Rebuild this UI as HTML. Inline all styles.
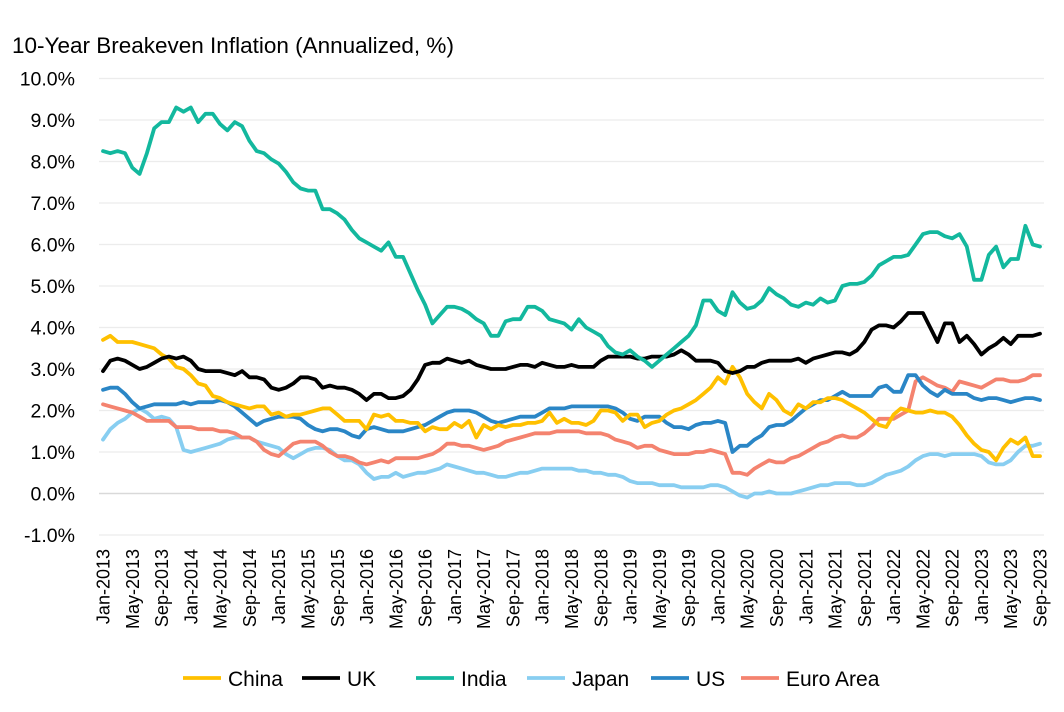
<!DOCTYPE html>
<html><head><meta charset="utf-8">
<style>
html,body{margin:0;padding:0;background:#fff;}
svg{display:block;font-family:"Liberation Sans",sans-serif;}
</style></head>
<body>
<svg id="chart" width="1064" height="712" viewBox="0 0 1064 712" xmlns="http://www.w3.org/2000/svg">
<text x="12" y="53" font-size="22.5" fill="#000">10-Year Breakeven Inflation (Annualized, %)</text>
<g id="grid"></g><g id="yticks"></g><g id="xticks"></g><g id="series"></g><g id="legend"></g>
</svg>
<script>
const yTicks=[-1,0,1,2,3,4,5,6,7,8,9,10];
const seriesNames=["China","UK","India","Japan","US","Euro Area"];
const china=[3.7,3.8,3.65,3.65,3.65,3.6,3.55,3.5,3.35,3.25,3.05,3.0,
2.85,2.65,2.6,2.35,2.3,2.2,2.15,2.1,2.05,2.1,2.1,1.9,
1.95,1.85,1.9,1.9,1.95,2.0,2.05,2.05,1.9,1.75,1.75,1.75,
1.55,1.9,1.85,1.9,1.75,1.75,1.7,1.7,1.5,1.6,1.55,1.55,
1.7,1.6,1.75,1.35,1.65,1.55,1.65,1.6,1.65,1.65,1.7,1.7,
1.75,1.95,1.7,1.8,1.7,1.7,1.65,1.75,2.0,2.0,1.95,1.75,
1.9,1.9,1.6,1.7,1.75,1.9,2.0,2.05,2.15,2.25,2.4,2.55,
2.8,2.65,3.05,2.8,2.4,2.2,2.05,2.4,2.25,2.0,1.9,2.15,
2.05,2.2,2.2,2.3,2.3,2.25,2.15,2.05,1.95,1.8,1.65,1.6,
1.9,2.05,2.0,1.95,1.95,2.0,1.95,1.95,1.85,1.65,1.4,1.2,
1.05,1.0,0.8,1.1,1.3,1.2,1.35,0.9,0.9];
const uk=[2.95,3.2,3.25,3.2,3.1,3.0,3.05,3.15,3.25,3.3,3.25,3.3,
3.2,3.0,2.95,2.95,2.95,2.9,2.85,2.95,2.8,2.8,2.75,2.55,
2.5,2.55,2.65,2.8,2.8,2.75,2.55,2.6,2.55,2.55,2.5,2.4,
2.25,2.4,2.4,2.3,2.3,2.35,2.5,2.75,3.1,3.15,3.15,3.25,
3.2,3.15,3.2,3.1,3.05,3.0,3.0,3.0,3.05,3.1,3.1,3.05,
3.15,3.1,3.05,3.05,3.1,3.05,3.05,3.05,3.2,3.3,3.3,3.3,
3.3,3.25,3.25,3.3,3.3,3.3,3.35,3.45,3.35,3.2,3.2,3.2,
3.15,2.95,2.9,2.95,3.05,3.05,3.15,3.2,3.2,3.2,3.2,3.25,
3.15,3.25,3.3,3.35,3.4,3.4,3.35,3.45,3.65,3.95,4.05,4.05,
4.0,4.15,4.35,4.35,4.35,4.0,3.65,4.1,4.1,3.65,3.8,3.6,
3.35,3.5,3.6,3.75,3.6,3.8,3.8,3.8,3.85];
const india=[8.25,8.2,8.25,8.2,7.85,7.7,8.2,8.8,8.95,8.95,9.3,9.2,
9.3,8.95,9.15,9.15,8.9,8.75,8.95,8.85,8.5,8.25,8.2,8.05,
7.95,7.75,7.5,7.35,7.3,7.3,6.85,6.85,6.75,6.6,6.35,6.15,
6.05,5.95,5.85,6.05,5.7,5.7,5.3,4.9,4.55,4.1,4.3,4.5,
4.5,4.45,4.35,4.2,4.1,3.8,3.8,4.15,4.2,4.2,4.5,4.5,
4.4,4.2,4.15,4.1,3.95,4.2,4.0,3.9,3.8,3.55,3.4,3.35,
3.45,3.3,3.2,3.05,3.2,3.35,3.5,3.65,3.8,4.05,4.65,4.65,
4.4,4.3,4.85,4.6,4.45,4.5,4.65,4.95,4.8,4.7,4.55,4.5,
4.6,4.55,4.7,4.6,4.65,5.0,5.05,5.05,5.1,5.25,5.5,5.6,
5.7,5.7,5.75,6.0,6.25,6.3,6.3,6.2,6.15,6.25,5.95,5.15,
5.15,5.75,5.95,5.45,5.65,5.65,6.45,6.0,5.95];
const japan=[1.3,1.55,1.7,1.8,1.95,2.05,1.95,1.8,1.85,1.8,1.6,1.05,
1.0,1.05,1.1,1.15,1.2,1.3,1.35,1.35,1.35,1.25,1.2,1.15,
1.1,0.95,0.85,0.95,1.05,1.1,1.1,1.05,0.9,0.8,0.8,0.7,
0.5,0.35,0.4,0.4,0.5,0.4,0.45,0.5,0.5,0.55,0.6,0.7,
0.65,0.6,0.55,0.5,0.5,0.45,0.4,0.4,0.45,0.5,0.5,0.55,
0.6,0.6,0.6,0.6,0.6,0.55,0.55,0.5,0.5,0.45,0.45,0.4,
0.3,0.25,0.25,0.25,0.2,0.2,0.2,0.15,0.15,0.15,0.15,0.2,
0.2,0.15,0.05,-0.05,-0.1,0.0,0.0,0.05,0.0,0.0,0.0,0.05,
0.1,0.15,0.2,0.2,0.25,0.25,0.25,0.2,0.2,0.25,0.35,0.45,
0.5,0.55,0.65,0.8,0.9,0.95,0.95,0.9,0.95,0.95,0.95,0.95,
0.9,0.75,0.7,0.7,0.8,1.0,1.15,1.15,1.2];
const us=[2.5,2.55,2.55,2.4,2.2,2.05,2.1,2.15,2.15,2.15,2.15,2.2,
2.15,2.2,2.2,2.2,2.25,2.2,2.1,1.95,1.8,1.65,1.75,1.8,
1.85,1.85,1.85,1.8,1.65,1.55,1.5,1.55,1.55,1.5,1.4,1.35,
1.55,1.6,1.55,1.5,1.5,1.5,1.55,1.6,1.65,1.75,1.85,1.95,
2.0,2.0,2.0,1.95,1.85,1.75,1.7,1.75,1.8,1.85,1.85,1.85,
1.95,2.05,2.05,2.05,2.1,2.1,2.1,2.1,2.1,2.1,2.05,1.95,
1.8,1.75,1.85,1.85,1.85,1.7,1.6,1.6,1.55,1.65,1.7,1.7,
1.75,1.7,1.0,1.15,1.15,1.3,1.4,1.6,1.65,1.65,1.75,1.9,
2.05,2.15,2.25,2.25,2.35,2.45,2.35,2.35,2.35,2.35,2.55,2.6,
2.45,2.45,2.85,2.85,2.6,2.45,2.35,2.5,2.4,2.4,2.4,2.3,
2.25,2.3,2.3,2.25,2.2,2.25,2.3,2.3,2.25];
const euro=[2.15,2.1,2.05,2.0,1.95,1.85,1.75,1.75,1.75,1.75,1.6,1.6,
1.6,1.55,1.55,1.55,1.5,1.5,1.45,1.35,1.35,1.25,1.05,0.95,
0.9,1.05,1.2,1.25,1.25,1.25,1.15,1.0,0.9,0.9,0.85,0.75,
0.7,0.75,0.8,0.75,0.85,0.85,0.85,0.85,0.9,0.95,1.05,1.2,
1.2,1.15,1.15,1.1,1.05,1.1,1.15,1.25,1.3,1.35,1.4,1.45,
1.45,1.45,1.5,1.5,1.5,1.5,1.45,1.45,1.45,1.4,1.3,1.25,
1.2,1.1,1.15,1.15,1.05,1.0,0.95,0.95,0.95,1.0,1.0,1.05,
1.0,0.95,0.5,0.5,0.45,0.6,0.7,0.8,0.75,0.75,0.85,0.9,
1.0,1.1,1.2,1.25,1.35,1.4,1.35,1.35,1.45,1.6,1.8,1.8,
1.8,1.9,2.0,2.7,2.8,2.7,2.6,2.55,2.45,2.7,2.65,2.6,
2.55,2.65,2.75,2.75,2.7,2.7,2.75,2.85,2.85];
const monthNames=["Jan","Feb","Mar","Apr","May","Jun","Jul","Aug","Sep","Oct","Nov","Dec"];

const NS="http://www.w3.org/2000/svg";
const X0=103,X1=1040,Y0=493.5,PX=41.5,N=china.length;
const xs=i=>X0+i*(X1-X0)/(N-1);
const ys=v=>Y0-v*PX;
function mk(tag,attrs,parent){const e=document.createElementNS(NS,tag);for(const k in attrs)e.setAttribute(k,attrs[k]);parent.appendChild(e);return e;}
const grid=document.getElementById('grid'),yt=document.getElementById('yticks'),xt=document.getElementById('xticks'),sg=document.getElementById('series'),lg=document.getElementById('legend');
yTicks.forEach(v=>{
  const l=mk('line',{x1:99,x2:1044,y1:ys(v),y2:ys(v),stroke:v===0?'#d9d9d9':'#ececec','stroke-width':v===0?1.5:1.3},grid);
  
  
  const t=mk('text',{x:75,y:ys(v)+7,'text-anchor':'end','font-size':19.5,fill:'#000'},yt);
  
  
  t.textContent=v.toFixed(1)+'%';
});
for(let i=0;i<N;i+=4){
  const m=i%12,y=2013+Math.floor(i/12);
  const t=mk('text',{transform:`translate(${xs(i)+6.5},549) rotate(-90)`,'text-anchor':'end','font-size':18,fill:'#000'},xt);
  
  
  t.textContent=monthNames[m]+'-'+y;
}
const all=[china,uk,india,japan,us,euro];
const colors=["#FFC000","#000000","#13B89E","#88CEF1","#2A86C6","#F4836F"];
const order=[3,5,4,0,1,2];
order.forEach(k=>{
  const d=all[k].map((v,i)=>(i?'L':'M')+xs(i).toFixed(1)+' '+ys(v).toFixed(1)).join('');
  const p=mk('path',{d,fill:'none',stroke:colors[k],'stroke-width':3.8,'stroke-linejoin':'round','stroke-linecap':'round'},sg);
  
  
});
const legX=[183,302,416,527,651,741];
seriesNames.forEach((n,k)=>{
  const g=mk('g',{},lg);
  
  
  mk('line',{x1:legX[k],x2:legX[k]+38,y1:678,y2:678,stroke:colors[k],'stroke-width':3.8},g);
  const t=mk('text',{x:legX[k]+45,y:686,'font-size':21,fill:'#000'},g);
  t.textContent=n;
});
</script>
</body></html>
